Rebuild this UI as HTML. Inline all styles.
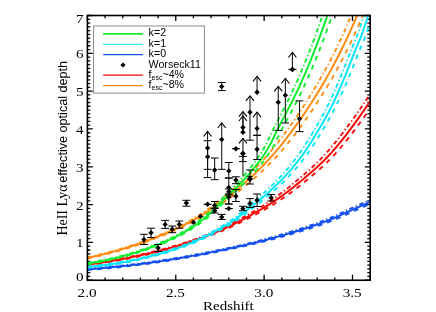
<!DOCTYPE html>
<html><head><meta charset="utf-8"><title>plot</title>
<style>html,body{margin:0;padding:0;background:#fff;}body{width:436px;height:312px;overflow:hidden;position:relative;font-family:"Liberation Sans",sans-serif;}</style></head>
<body>
<svg width="436" height="312" viewBox="0 0 436 312" style="position:absolute;left:0;top:0;will-change:transform">
<defs><clipPath id="pc"><rect x="87.4" y="15.5" width="282.79999999999995" height="264.75"/></clipPath></defs>
<path d="M87.40,280.25 v-5.4 M87.40,15.5 v5.4 M105.07,280.25 v-2.7 M105.07,15.5 v2.7 M122.75,280.25 v-2.7 M122.75,15.5 v2.7 M140.42,280.25 v-2.7 M140.42,15.5 v2.7 M158.09,280.25 v-2.7 M158.09,15.5 v2.7 M175.77,280.25 v-5.4 M175.77,15.5 v5.4 M193.44,280.25 v-2.7 M193.44,15.5 v2.7 M211.11,280.25 v-2.7 M211.11,15.5 v2.7 M228.79,280.25 v-2.7 M228.79,15.5 v2.7 M246.46,280.25 v-2.7 M246.46,15.5 v2.7 M264.13,280.25 v-5.4 M264.13,15.5 v5.4 M281.81,280.25 v-2.7 M281.81,15.5 v2.7 M299.48,280.25 v-2.7 M299.48,15.5 v2.7 M317.15,280.25 v-2.7 M317.15,15.5 v2.7 M334.83,280.25 v-2.7 M334.83,15.5 v2.7 M352.50,280.25 v-5.4 M352.50,15.5 v5.4 M370.17,280.25 v-2.7 M370.17,15.5 v2.7 M87.4,280.25 h5.4 M370.2,280.25 h-5.4 M87.4,276.47 h2.9 M370.2,276.47 h-2.9 M87.4,272.69 h2.9 M370.2,272.69 h-2.9 M87.4,268.90 h2.9 M370.2,268.90 h-2.9 M87.4,265.12 h2.9 M370.2,265.12 h-2.9 M87.4,261.34 h2.9 M370.2,261.34 h-2.9 M87.4,257.56 h2.9 M370.2,257.56 h-2.9 M87.4,253.78 h2.9 M370.2,253.78 h-2.9 M87.4,249.99 h2.9 M370.2,249.99 h-2.9 M87.4,246.21 h2.9 M370.2,246.21 h-2.9 M87.4,242.43 h5.4 M370.2,242.43 h-5.4 M87.4,238.65 h2.9 M370.2,238.65 h-2.9 M87.4,234.86 h2.9 M370.2,234.86 h-2.9 M87.4,231.08 h2.9 M370.2,231.08 h-2.9 M87.4,227.30 h2.9 M370.2,227.30 h-2.9 M87.4,223.52 h2.9 M370.2,223.52 h-2.9 M87.4,219.74 h2.9 M370.2,219.74 h-2.9 M87.4,215.95 h2.9 M370.2,215.95 h-2.9 M87.4,212.17 h2.9 M370.2,212.17 h-2.9 M87.4,208.39 h2.9 M370.2,208.39 h-2.9 M87.4,204.61 h5.4 M370.2,204.61 h-5.4 M87.4,200.82 h2.9 M370.2,200.82 h-2.9 M87.4,197.04 h2.9 M370.2,197.04 h-2.9 M87.4,193.26 h2.9 M370.2,193.26 h-2.9 M87.4,189.48 h2.9 M370.2,189.48 h-2.9 M87.4,185.70 h2.9 M370.2,185.70 h-2.9 M87.4,181.91 h2.9 M370.2,181.91 h-2.9 M87.4,178.13 h2.9 M370.2,178.13 h-2.9 M87.4,174.35 h2.9 M370.2,174.35 h-2.9 M87.4,170.57 h2.9 M370.2,170.57 h-2.9 M87.4,166.79 h5.4 M370.2,166.79 h-5.4 M87.4,163.00 h2.9 M370.2,163.00 h-2.9 M87.4,159.22 h2.9 M370.2,159.22 h-2.9 M87.4,155.44 h2.9 M370.2,155.44 h-2.9 M87.4,151.66 h2.9 M370.2,151.66 h-2.9 M87.4,147.88 h2.9 M370.2,147.88 h-2.9 M87.4,144.09 h2.9 M370.2,144.09 h-2.9 M87.4,140.31 h2.9 M370.2,140.31 h-2.9 M87.4,136.53 h2.9 M370.2,136.53 h-2.9 M87.4,132.75 h2.9 M370.2,132.75 h-2.9 M87.4,128.96 h5.4 M370.2,128.96 h-5.4 M87.4,125.18 h2.9 M370.2,125.18 h-2.9 M87.4,121.40 h2.9 M370.2,121.40 h-2.9 M87.4,117.62 h2.9 M370.2,117.62 h-2.9 M87.4,113.84 h2.9 M370.2,113.84 h-2.9 M87.4,110.05 h2.9 M370.2,110.05 h-2.9 M87.4,106.27 h2.9 M370.2,106.27 h-2.9 M87.4,102.49 h2.9 M370.2,102.49 h-2.9 M87.4,98.71 h2.9 M370.2,98.71 h-2.9 M87.4,94.92 h2.9 M370.2,94.92 h-2.9 M87.4,91.14 h5.4 M370.2,91.14 h-5.4 M87.4,87.36 h2.9 M370.2,87.36 h-2.9 M87.4,83.58 h2.9 M370.2,83.58 h-2.9 M87.4,79.80 h2.9 M370.2,79.80 h-2.9 M87.4,76.01 h2.9 M370.2,76.01 h-2.9 M87.4,72.23 h2.9 M370.2,72.23 h-2.9 M87.4,68.45 h2.9 M370.2,68.45 h-2.9 M87.4,64.67 h2.9 M370.2,64.67 h-2.9 M87.4,60.89 h2.9 M370.2,60.89 h-2.9 M87.4,57.10 h2.9 M370.2,57.10 h-2.9 M87.4,53.32 h5.4 M370.2,53.32 h-5.4 M87.4,49.54 h2.9 M370.2,49.54 h-2.9 M87.4,45.76 h2.9 M370.2,45.76 h-2.9 M87.4,41.97 h2.9 M370.2,41.97 h-2.9 M87.4,38.19 h2.9 M370.2,38.19 h-2.9 M87.4,34.41 h2.9 M370.2,34.41 h-2.9 M87.4,30.63 h2.9 M370.2,30.63 h-2.9 M87.4,26.85 h2.9 M370.2,26.85 h-2.9 M87.4,23.06 h2.9 M370.2,23.06 h-2.9 M87.4,19.28 h2.9 M370.2,19.28 h-2.9 M87.4,15.50 h5.4 M370.2,15.50 h-5.4" stroke="#000" fill="none" stroke-width="1.3"/>
<g clip-path="url(#pc)" fill="none" stroke-linejoin="round">
<path d="M87.40,268.65 L90.02,268.45 L92.65,268.24 L95.28,268.03 L97.90,267.81 L100.53,267.59 L103.16,267.36 L105.78,267.13 L108.41,266.89 L111.03,266.64 L113.66,266.39 L116.29,266.13 L118.91,265.86 L121.54,265.58 L124.16,265.30 L126.79,265.01 L129.41,264.71 L132.04,264.40 L134.66,264.08 L137.29,263.74 L139.91,263.40 L142.54,263.05 L145.16,262.69 L147.79,262.32 L150.41,261.95 L153.03,261.58 L155.66,261.20 L158.28,260.81 L160.90,260.42 L163.53,260.02 L166.15,259.61 L168.77,259.19 L171.39,258.77 L174.01,258.34 L176.63,257.90 L179.25,257.46 L181.87,257.01 L184.48,256.55 L187.10,256.09 L189.72,255.63 L192.33,255.16 L194.94,254.68 L197.55,254.20 L200.17,253.71 L202.77,253.21 L205.38,252.71 L207.99,252.20 L210.59,251.69 L213.19,251.17 L215.79,250.64 L218.39,250.10 L220.99,249.56 L223.58,249.01 L226.17,248.46 L228.76,247.90 L231.34,247.33 L233.92,246.76 L236.50,246.19 L239.08,245.60 L241.65,245.01 L244.23,244.41 L246.79,243.80 L249.36,243.19 L251.92,242.56 L254.48,241.92 L257.04,241.27 L259.60,240.61 L262.16,239.93 L264.71,239.25 L267.26,238.55 L269.82,237.85 L272.37,237.13 L274.92,236.40 L277.47,235.66 L280.03,234.91 L282.58,234.15 L285.14,233.38 L287.70,232.60 L290.26,231.82 L292.82,231.03 L295.39,230.23 L297.95,229.42 L300.52,228.60 L303.10,227.77 L305.67,226.92 L308.25,226.07 L310.83,225.19 L313.42,224.30 L316.00,223.38 L318.59,222.45 L321.19,221.48 L323.78,220.49 L326.38,219.47 L328.98,218.42 L331.58,217.31 L334.18,216.16 L336.79,214.97 L339.39,213.76 L342.00,212.54 L344.61,211.32 L347.22,210.12 L349.84,208.94 L352.45,207.77 L355.06,206.61 L357.68,205.44 L360.30,204.28 L362.92,203.10 L365.53,201.91 L368.15,200.70 L370.77,199.50" stroke="#1450f0" stroke-width="1.85" stroke-dasharray="4.5 2.5 1.3 2.5"/>
<path d="M87.40,270.05 L90.03,269.85 L92.66,269.64 L95.28,269.43 L97.91,269.21 L100.54,268.99 L103.17,268.76 L105.79,268.53 L108.42,268.29 L111.05,268.04 L113.67,267.79 L116.30,267.53 L118.93,267.26 L121.56,266.98 L124.18,266.70 L126.81,266.41 L129.44,266.11 L132.07,265.80 L134.70,265.48 L137.32,265.14 L139.95,264.80 L142.58,264.45 L145.21,264.09 L147.84,263.72 L150.47,263.35 L153.10,262.98 L155.73,262.60 L158.36,262.21 L160.99,261.82 L163.62,261.42 L166.25,261.01 L168.88,260.59 L171.52,260.17 L174.15,259.74 L176.78,259.30 L179.42,258.86 L182.05,258.41 L184.69,257.95 L187.33,257.49 L189.97,257.03 L192.60,256.56 L195.24,256.08 L197.89,255.60 L200.53,255.11 L203.17,254.61 L205.82,254.11 L208.47,253.60 L211.12,253.09 L213.77,252.57 L216.42,252.04 L219.08,251.50 L221.74,250.96 L224.40,250.41 L227.06,249.86 L229.72,249.30 L232.39,248.73 L235.06,248.16 L237.74,247.59 L240.41,247.00 L243.09,246.41 L245.78,245.81 L248.46,245.20 L251.15,244.59 L253.84,243.96 L256.53,243.32 L259.23,242.67 L261.92,242.01 L264.62,241.33 L267.32,240.65 L270.02,239.95 L272.72,239.25 L275.42,238.53 L278.12,237.80 L280.82,237.06 L283.52,236.31 L286.22,235.55 L288.92,234.78 L291.61,234.00 L294.30,233.22 L297.00,232.43 L299.68,231.63 L302.37,230.82 L305.05,230.00 L307.73,229.17 L310.41,228.32 L313.08,227.47 L315.76,226.59 L318.43,225.70 L321.09,224.78 L323.76,223.85 L326.42,222.88 L329.08,221.89 L331.73,220.87 L334.39,219.82 L337.04,218.71 L339.69,217.56 L342.34,216.37 L344.98,215.16 L347.63,213.94 L350.27,212.72 L352.91,211.52 L355.55,210.34 L358.19,209.17 L360.83,208.01 L363.47,206.84 L366.10,205.68 L368.74,204.50 L371.37,203.31 L374.01,202.10 L376.64,200.90" stroke="#1450f0" stroke-width="1.85" stroke-dasharray="4.7 5.1"/>
<path d="M87.40,269.35 L90.03,269.15 L92.65,268.94 L95.28,268.73 L97.91,268.51 L100.53,268.29 L103.16,268.06 L105.79,267.83 L108.41,267.59 L111.04,267.34 L113.67,267.09 L116.29,266.83 L118.92,266.56 L121.55,266.28 L124.17,266.00 L126.80,265.71 L129.43,265.41 L132.05,265.10 L134.68,264.78 L137.31,264.44 L139.93,264.10 L142.56,263.75 L145.19,263.39 L147.81,263.02 L150.44,262.65 L153.07,262.28 L155.69,261.90 L158.32,261.51 L160.95,261.12 L163.57,260.72 L166.20,260.31 L168.83,259.89 L171.45,259.47 L174.08,259.04 L176.71,258.60 L179.33,258.16 L181.96,257.71 L184.59,257.25 L187.21,256.79 L189.84,256.33 L192.47,255.86 L195.09,255.38 L197.72,254.90 L200.35,254.41 L202.97,253.91 L205.60,253.41 L208.23,252.90 L210.85,252.39 L213.48,251.87 L216.11,251.34 L218.73,250.80 L221.36,250.26 L223.99,249.71 L226.61,249.16 L229.24,248.60 L231.87,248.03 L234.49,247.46 L237.12,246.89 L239.75,246.30 L242.37,245.71 L245.00,245.11 L247.63,244.50 L250.25,243.89 L252.88,243.26 L255.51,242.62 L258.13,241.97 L260.76,241.31 L263.39,240.63 L266.01,239.95 L268.64,239.25 L271.27,238.55 L273.89,237.83 L276.52,237.10 L279.15,236.36 L281.77,235.61 L284.40,234.85 L287.03,234.08 L289.65,233.30 L292.28,232.52 L294.91,231.73 L297.53,230.93 L300.16,230.12 L302.79,229.30 L305.41,228.47 L308.04,227.62 L310.67,226.77 L313.29,225.89 L315.92,225.00 L318.55,224.08 L321.17,223.15 L323.80,222.18 L326.43,221.19 L329.05,220.17 L331.68,219.12 L334.31,218.01 L336.93,216.86 L339.56,215.67 L342.19,214.46 L344.81,213.24 L347.44,212.02 L350.07,210.82 L352.69,209.64 L355.32,208.47 L357.95,207.31 L360.57,206.14 L363.20,204.98 L365.83,203.80 L368.45,202.61 L371.08,201.40 L373.71,200.20" stroke="#1450f0" stroke-width="2.0"/>
<path d="M87.38,263.98 L90.01,263.61 L92.63,263.23 L95.26,262.84 L97.88,262.44 L100.51,262.04 L103.13,261.62 L105.76,261.20 L108.38,260.76 L111.00,260.32 L113.63,259.86 L116.25,259.40 L118.87,258.93 L121.49,258.44 L124.12,257.95 L126.74,257.45 L129.36,256.93 L131.98,256.40 L134.60,255.87 L137.22,255.32 L139.83,254.76 L142.45,254.19 L145.07,253.61 L147.68,253.01 L150.30,252.40 L152.91,251.77 L155.52,251.13 L158.13,250.47 L160.74,249.80 L163.35,249.10 L165.96,248.40 L168.56,247.67 L171.16,246.93 L173.76,246.18 L176.36,245.40 L178.96,244.61 L181.55,243.80 L184.14,242.97 L186.73,242.12 L189.32,241.25 L191.90,240.37 L194.48,239.46 L197.05,238.54 L199.63,237.60 L202.20,236.63 L204.76,235.65 L207.32,234.64 L209.88,233.60 L212.44,232.55 L214.99,231.47 L217.53,230.36 L220.08,229.22 L222.62,228.06 L225.16,226.86 L227.69,225.63 L230.22,224.36 L232.75,223.07 L235.28,221.74 L237.81,220.38 L240.33,218.99 L242.86,217.58 L245.38,216.16 L247.91,214.71 L250.43,213.26 L252.96,211.79 L255.49,210.31 L258.02,208.81 L260.55,207.28 L263.08,205.71 L265.62,204.10 L268.16,202.44 L270.70,200.73 L273.25,198.96 L275.80,197.14 L278.35,195.28 L280.91,193.36 L283.47,191.40 L286.04,189.40 L288.61,187.36 L291.18,185.27 L293.76,183.16 L296.33,181.01 L298.92,178.83 L301.50,176.63 L304.09,174.41 L306.68,172.16 L309.27,169.86 L311.87,167.51 L314.47,165.10 L317.07,162.62 L319.67,160.04 L322.27,157.37 L324.88,154.59 L327.49,151.69 L330.10,148.70 L332.71,145.61 L335.32,142.44 L337.93,139.19 L340.55,135.87 L343.16,132.49 L345.78,129.00 L348.39,125.45 L351.01,121.86 L353.63,118.22 L356.25,114.53 L358.87,110.77 L361.49,106.96 L364.11,103.10 L366.73,99.19 L369.36,95.25" stroke="#f80808" stroke-width="1.85" stroke-dasharray="4.5 2.5 1.3 2.5"/>
<path d="M87.42,265.38 L90.04,265.01 L92.67,264.63 L95.30,264.24 L97.93,263.84 L100.56,263.44 L103.19,263.02 L105.82,262.60 L108.45,262.16 L111.08,261.72 L113.71,261.26 L116.34,260.80 L118.97,260.33 L121.60,259.84 L124.23,259.35 L126.86,258.85 L129.50,258.33 L132.13,257.80 L134.76,257.27 L137.40,256.72 L140.03,256.16 L142.67,255.59 L145.31,255.01 L147.94,254.41 L150.58,253.80 L153.22,253.17 L155.86,252.53 L158.51,251.87 L161.15,251.20 L163.80,250.50 L166.44,249.80 L169.09,249.07 L171.74,248.33 L174.40,247.58 L177.05,246.80 L179.71,246.01 L182.37,245.20 L185.03,244.37 L187.70,243.52 L190.36,242.65 L193.03,241.77 L195.71,240.86 L198.39,239.94 L201.07,239.00 L203.75,238.03 L206.44,237.05 L209.13,236.04 L211.83,235.00 L214.53,233.95 L217.23,232.87 L219.93,231.76 L222.64,230.62 L225.36,229.46 L228.07,228.26 L230.79,227.03 L233.51,225.76 L236.24,224.47 L238.96,223.14 L241.69,221.78 L244.42,220.39 L247.14,218.98 L249.87,217.56 L252.60,216.11 L255.33,214.66 L258.06,213.19 L260.78,211.71 L263.51,210.21 L266.23,208.68 L268.95,207.11 L271.66,205.50 L274.38,203.84 L277.08,202.13 L279.79,200.36 L282.49,198.54 L285.19,196.68 L287.89,194.76 L290.58,192.80 L293.27,190.80 L295.95,188.76 L298.64,186.67 L301.31,184.56 L303.99,182.41 L306.66,180.23 L309.33,178.03 L311.99,175.81 L314.66,173.56 L317.32,171.26 L319.97,168.91 L322.63,166.50 L325.28,164.02 L327.93,161.44 L330.58,158.77 L333.23,155.99 L335.88,153.09 L338.52,150.10 L341.16,147.01 L343.80,143.84 L346.44,140.59 L349.08,137.27 L351.72,133.89 L354.36,130.40 L356.99,126.85 L359.63,123.26 L362.26,119.62 L364.90,115.93 L367.53,112.17 L370.16,108.36 L372.80,104.50 L375.43,100.59 L378.06,96.65" stroke="#f80808" stroke-width="1.85" stroke-dasharray="4.7 5.1"/>
<path d="M87.40,264.68 L90.03,264.31 L92.65,263.93 L95.28,263.54 L97.91,263.14 L100.53,262.74 L103.16,262.32 L105.79,261.90 L108.41,261.46 L111.04,261.02 L113.67,260.56 L116.29,260.10 L118.92,259.63 L121.55,259.14 L124.17,258.65 L126.80,258.15 L129.43,257.63 L132.05,257.10 L134.68,256.57 L137.31,256.02 L139.93,255.46 L142.56,254.89 L145.19,254.31 L147.81,253.71 L150.44,253.10 L153.07,252.47 L155.69,251.83 L158.32,251.17 L160.95,250.50 L163.57,249.80 L166.20,249.10 L168.83,248.37 L171.45,247.63 L174.08,246.88 L176.71,246.10 L179.33,245.31 L181.96,244.50 L184.59,243.67 L187.21,242.82 L189.84,241.95 L192.47,241.07 L195.09,240.16 L197.72,239.24 L200.35,238.30 L202.97,237.33 L205.60,236.35 L208.23,235.34 L210.85,234.30 L213.48,233.25 L216.11,232.17 L218.73,231.06 L221.36,229.92 L223.99,228.76 L226.61,227.56 L229.24,226.33 L231.87,225.06 L234.49,223.77 L237.12,222.44 L239.75,221.08 L242.37,219.69 L245.00,218.28 L247.63,216.86 L250.25,215.41 L252.88,213.96 L255.51,212.49 L258.13,211.01 L260.76,209.51 L263.39,207.98 L266.01,206.41 L268.64,204.80 L271.27,203.14 L273.89,201.43 L276.52,199.66 L279.15,197.84 L281.77,195.98 L284.40,194.06 L287.03,192.10 L289.65,190.10 L292.28,188.06 L294.91,185.97 L297.53,183.86 L300.16,181.71 L302.79,179.53 L305.41,177.33 L308.04,175.11 L310.67,172.86 L313.29,170.56 L315.92,168.21 L318.55,165.80 L321.17,163.32 L323.80,160.74 L326.43,158.07 L329.05,155.29 L331.68,152.39 L334.31,149.40 L336.93,146.31 L339.56,143.14 L342.19,139.89 L344.81,136.57 L347.44,133.19 L350.07,129.70 L352.69,126.15 L355.32,122.56 L357.95,118.92 L360.57,115.23 L363.20,111.47 L365.83,107.66 L368.45,103.80 L371.08,99.89 L373.71,95.95" stroke="#f80808" stroke-width="2.0"/>
<path d="M87.38,266.46 L90.01,266.19 L92.63,265.90 L95.25,265.60 L97.88,265.29 L100.50,264.96 L103.13,264.63 L105.75,264.28 L108.37,263.91 L111.00,263.54 L113.62,263.14 L116.24,262.74 L118.86,262.32 L121.48,261.88 L124.10,261.42 L126.72,260.95 L129.34,260.46 L131.96,259.94 L134.58,259.39 L137.19,258.81 L139.81,258.22 L142.43,257.60 L145.04,256.95 L147.65,256.29 L150.27,255.61 L152.88,254.92 L155.48,254.21 L158.09,253.49 L160.70,252.75 L163.30,251.98 L165.90,251.20 L168.50,250.39 L171.10,249.56 L173.70,248.70 L176.29,247.81 L178.88,246.89 L181.47,245.94 L184.06,244.96 L186.64,243.94 L189.22,242.88 L191.79,241.78 L194.37,240.64 L196.94,239.46 L199.50,238.24 L202.07,236.99 L204.63,235.70 L207.18,234.37 L209.74,233.01 L212.29,231.62 L214.83,230.20 L217.38,228.75 L219.92,227.28 L222.46,225.77 L225.00,224.21 L227.53,222.60 L230.07,220.92 L232.60,219.15 L235.14,217.28 L237.67,215.27 L240.21,213.17 L242.74,211.02 L245.28,208.84 L247.81,206.69 L250.35,204.58 L252.90,202.46 L255.44,200.32 L257.99,198.17 L260.53,195.98 L263.09,193.74 L265.64,191.43 L268.20,189.04 L270.76,186.62 L273.33,184.14 L275.90,181.60 L278.47,178.95 L281.04,176.19 L283.62,173.34 L286.20,170.40 L288.79,167.35 L291.37,164.19 L293.96,160.91 L296.56,157.49 L299.15,153.91 L301.75,150.16 L304.35,146.25 L306.95,142.18 L309.55,137.98 L312.16,133.67 L314.76,129.28 L317.37,124.81 L319.98,120.23 L322.59,115.51 L325.21,110.60 L327.82,105.44 L330.43,100.01 L333.05,94.33 L335.67,88.45 L338.28,82.40 L340.90,76.17 L343.52,69.65 L346.14,62.95 L348.76,56.20 L351.38,49.55 L354.00,43.26 L356.63,36.95 L359.25,29.85 L361.87,22.01 L364.49,13.89 L367.12,5.61 L369.74,-2.94" stroke="#08e6fa" stroke-width="1.85" stroke-dasharray="4.5 2.5 1.3 2.5"/>
<path d="M87.42,267.86 L90.05,267.59 L92.68,267.30 L95.31,267.00 L97.94,266.69 L100.56,266.36 L103.19,266.03 L105.82,265.68 L108.45,265.31 L111.09,264.94 L113.72,264.54 L116.35,264.14 L118.98,263.72 L121.61,263.28 L124.24,262.82 L126.88,262.35 L129.51,261.86 L132.15,261.34 L134.78,260.79 L137.42,260.21 L140.06,259.62 L142.69,259.00 L145.33,258.35 L147.97,257.69 L150.62,257.01 L153.26,256.32 L155.90,255.61 L158.55,254.89 L161.20,254.15 L163.85,253.38 L166.50,252.60 L169.15,251.79 L171.81,250.96 L174.46,250.10 L177.12,249.21 L179.79,248.29 L182.45,247.34 L185.12,246.36 L187.79,245.34 L190.46,244.28 L193.14,243.18 L195.82,242.04 L198.50,240.86 L201.19,239.64 L203.88,238.39 L206.58,237.10 L209.27,235.77 L211.97,234.41 L214.68,233.02 L217.38,231.60 L220.09,230.15 L222.80,228.68 L225.51,227.17 L228.23,225.61 L230.95,224.00 L233.66,222.32 L236.38,220.55 L239.10,218.68 L241.82,216.67 L244.54,214.57 L247.26,212.42 L249.98,210.24 L252.69,208.09 L255.41,205.98 L258.12,203.86 L260.83,201.72 L263.54,199.57 L266.24,197.38 L268.94,195.14 L271.64,192.83 L274.33,190.44 L277.03,188.02 L279.71,185.54 L282.40,183.00 L285.08,180.35 L287.76,177.59 L290.43,174.74 L293.11,171.80 L295.78,168.75 L298.44,165.59 L301.11,162.31 L303.77,158.89 L306.42,155.31 L309.08,151.56 L311.73,147.65 L314.39,143.58 L317.04,139.38 L319.68,135.07 L322.33,130.68 L324.98,126.21 L327.62,121.63 L330.26,116.91 L332.90,112.00 L335.54,106.84 L338.18,101.41 L340.82,95.73 L343.46,89.85 L346.09,83.80 L348.73,77.57 L351.36,71.05 L353.99,64.35 L356.63,57.60 L359.26,50.95 L361.89,44.66 L364.52,38.35 L367.15,31.25 L369.79,23.41 L372.42,15.29 L375.05,7.01 L377.68,-1.54" stroke="#08e6fa" stroke-width="1.85" stroke-dasharray="4.7 5.1"/>
<path d="M87.40,267.16 L90.03,266.89 L92.65,266.60 L95.28,266.30 L97.91,265.99 L100.53,265.66 L103.16,265.33 L105.79,264.98 L108.41,264.61 L111.04,264.24 L113.67,263.84 L116.29,263.44 L118.92,263.02 L121.55,262.58 L124.17,262.12 L126.80,261.65 L129.43,261.16 L132.05,260.64 L134.68,260.09 L137.31,259.51 L139.93,258.92 L142.56,258.30 L145.19,257.65 L147.81,256.99 L150.44,256.31 L153.07,255.62 L155.69,254.91 L158.32,254.19 L160.95,253.45 L163.57,252.68 L166.20,251.90 L168.83,251.09 L171.45,250.26 L174.08,249.40 L176.71,248.51 L179.33,247.59 L181.96,246.64 L184.59,245.66 L187.21,244.64 L189.84,243.58 L192.47,242.48 L195.09,241.34 L197.72,240.16 L200.35,238.94 L202.97,237.69 L205.60,236.40 L208.23,235.07 L210.85,233.71 L213.48,232.32 L216.11,230.90 L218.73,229.45 L221.36,227.98 L223.99,226.47 L226.61,224.91 L229.24,223.30 L231.87,221.62 L234.49,219.85 L237.12,217.98 L239.75,215.97 L242.37,213.87 L245.00,211.72 L247.63,209.54 L250.25,207.39 L252.88,205.28 L255.51,203.16 L258.13,201.02 L260.76,198.87 L263.39,196.68 L266.01,194.44 L268.64,192.13 L271.27,189.74 L273.89,187.32 L276.52,184.84 L279.15,182.30 L281.77,179.65 L284.40,176.89 L287.03,174.04 L289.65,171.10 L292.28,168.05 L294.91,164.89 L297.53,161.61 L300.16,158.19 L302.79,154.61 L305.41,150.86 L308.04,146.95 L310.67,142.88 L313.29,138.68 L315.92,134.37 L318.55,129.98 L321.17,125.51 L323.80,120.93 L326.43,116.21 L329.05,111.30 L331.68,106.14 L334.31,100.71 L336.93,95.03 L339.56,89.15 L342.19,83.10 L344.81,76.87 L347.44,70.35 L350.07,63.65 L352.69,56.90 L355.32,50.25 L357.95,43.96 L360.57,37.65 L363.20,30.55 L365.83,22.71 L368.45,14.59 L371.08,6.31 L373.71,-2.24" stroke="#08e6fa" stroke-width="2.0"/>
<path d="M87.36,257.33 L89.99,256.75 L92.61,256.16 L95.23,255.56 L97.85,254.94 L100.48,254.31 L103.10,253.66 L105.72,252.99 L108.34,252.31 L110.96,251.61 L113.57,250.90 L116.19,250.16 L118.81,249.41 L121.43,248.65 L124.04,247.86 L126.65,247.05 L129.27,246.23 L131.88,245.38 L134.49,244.51 L137.10,243.62 L139.71,242.71 L142.31,241.78 L144.92,240.83 L147.52,239.86 L150.12,238.86 L152.71,237.85 L155.31,236.83 L157.90,235.78 L160.49,234.72 L163.08,233.65 L165.66,232.55 L168.24,231.43 L170.81,230.29 L173.39,229.12 L175.95,227.92 L178.52,226.69 L181.08,225.43 L183.63,224.12 L186.19,222.78 L188.73,221.39 L191.27,219.95 L193.81,218.46 L196.35,216.92 L198.87,215.33 L201.40,213.69 L203.92,212.01 L206.44,210.28 L208.95,208.51 L211.46,206.70 L213.96,204.84 L216.47,202.95 L218.97,201.02 L221.47,199.06 L223.97,197.07 L226.47,195.04 L228.97,192.98 L231.47,190.86 L233.97,188.71 L236.47,186.51 L238.98,184.27 L241.48,181.97 L243.99,179.63 L246.51,177.23 L249.03,174.78 L251.55,172.29 L254.07,169.75 L256.60,167.16 L259.14,164.50 L261.68,161.77 L264.22,158.97 L266.77,156.08 L269.32,153.09 L271.88,150.01 L274.44,146.85 L277.01,143.60 L279.58,140.27 L282.15,136.88 L284.73,133.42 L287.31,129.91 L289.89,126.33 L292.48,122.67 L295.07,118.94 L297.66,115.13 L300.26,111.25 L302.86,107.28 L305.46,103.24 L308.06,99.12 L310.66,94.93 L313.27,90.67 L315.88,86.31 L318.49,81.87 L321.10,77.33 L323.71,72.67 L326.32,67.91 L328.94,63.02 L331.55,58.00 L334.17,52.87 L336.79,47.61 L339.40,42.23 L342.02,36.68 L344.64,30.97 L347.26,25.05 L349.88,18.91 L352.50,12.65 L355.13,6.28 L357.75,-0.20 L360.37,-6.81 L362.99,-13.55 L365.62,-20.43 L368.24,-27.47" stroke="#ff8c10" stroke-width="1.85" stroke-dasharray="4.5 2.5 1.3 2.5"/>
<path d="M87.44,258.73 L90.07,258.15 L92.70,257.56 L95.33,256.96 L97.96,256.34 L100.59,255.71 L103.22,255.06 L105.86,254.39 L108.49,253.71 L111.12,253.01 L113.76,252.30 L116.39,251.56 L119.03,250.81 L121.67,250.05 L124.31,249.26 L126.95,248.45 L129.59,247.63 L132.23,246.78 L134.87,245.91 L137.52,245.02 L140.16,244.11 L142.81,243.18 L145.46,242.23 L148.11,241.26 L150.76,240.26 L153.42,239.25 L156.08,238.23 L158.74,237.18 L161.40,236.12 L164.07,235.05 L166.74,233.95 L169.42,232.83 L172.09,231.69 L174.77,230.52 L177.46,229.32 L180.15,228.09 L182.84,226.83 L185.54,225.52 L188.24,224.18 L190.95,222.79 L193.66,221.35 L196.38,219.86 L199.10,218.32 L201.82,216.73 L204.55,215.09 L207.28,213.41 L210.02,211.68 L212.76,209.91 L215.50,208.10 L218.25,206.24 L221.00,204.35 L223.75,202.42 L226.50,200.46 L229.26,198.47 L232.01,196.44 L234.77,194.38 L237.52,192.26 L240.27,190.11 L243.02,187.91 L245.77,185.67 L248.52,183.37 L251.26,181.03 L254.00,178.63 L256.74,176.18 L259.47,173.69 L262.20,171.15 L264.92,168.56 L267.64,165.90 L270.35,163.17 L273.06,160.37 L275.77,157.48 L278.47,154.49 L281.16,151.41 L283.85,148.25 L286.54,145.00 L289.23,141.67 L291.91,138.28 L294.58,134.82 L297.25,131.31 L299.92,127.73 L302.59,124.07 L305.25,120.34 L307.91,116.53 L310.57,112.65 L313.23,108.68 L315.88,104.64 L318.53,100.52 L321.18,96.33 L323.83,92.07 L326.47,87.71 L329.12,83.27 L331.76,78.73 L334.40,74.07 L337.04,69.31 L339.68,64.42 L342.32,59.40 L344.95,54.27 L347.59,49.01 L350.23,43.63 L352.86,38.08 L355.49,32.37 L358.13,26.45 L360.76,20.31 L363.39,14.05 L366.02,7.68 L368.65,1.20 L371.29,-5.41 L373.92,-12.15 L376.55,-19.03 L379.18,-26.07" stroke="#ff8c10" stroke-width="1.85" stroke-dasharray="4.7 5.1"/>
<path d="M87.40,258.03 L90.03,257.45 L92.65,256.86 L95.28,256.26 L97.91,255.64 L100.53,255.01 L103.16,254.36 L105.79,253.69 L108.41,253.01 L111.04,252.31 L113.67,251.60 L116.29,250.86 L118.92,250.11 L121.55,249.35 L124.17,248.56 L126.80,247.75 L129.43,246.93 L132.05,246.08 L134.68,245.21 L137.31,244.32 L139.93,243.41 L142.56,242.48 L145.19,241.53 L147.81,240.56 L150.44,239.56 L153.07,238.55 L155.69,237.53 L158.32,236.48 L160.95,235.42 L163.57,234.35 L166.20,233.25 L168.83,232.13 L171.45,230.99 L174.08,229.82 L176.71,228.62 L179.33,227.39 L181.96,226.13 L184.59,224.82 L187.21,223.48 L189.84,222.09 L192.47,220.65 L195.09,219.16 L197.72,217.62 L200.35,216.03 L202.97,214.39 L205.60,212.71 L208.23,210.98 L210.85,209.21 L213.48,207.40 L216.11,205.54 L218.73,203.65 L221.36,201.72 L223.99,199.76 L226.61,197.77 L229.24,195.74 L231.87,193.68 L234.49,191.56 L237.12,189.41 L239.75,187.21 L242.37,184.97 L245.00,182.67 L247.63,180.33 L250.25,177.93 L252.88,175.48 L255.51,172.99 L258.13,170.45 L260.76,167.86 L263.39,165.20 L266.01,162.47 L268.64,159.67 L271.27,156.78 L273.89,153.79 L276.52,150.71 L279.15,147.55 L281.77,144.30 L284.40,140.97 L287.03,137.58 L289.65,134.12 L292.28,130.61 L294.91,127.03 L297.53,123.37 L300.16,119.64 L302.79,115.83 L305.41,111.95 L308.04,107.98 L310.67,103.94 L313.29,99.82 L315.92,95.63 L318.55,91.37 L321.17,87.01 L323.80,82.57 L326.43,78.03 L329.05,73.37 L331.68,68.61 L334.31,63.72 L336.93,58.70 L339.56,53.57 L342.19,48.31 L344.81,42.93 L347.44,37.38 L350.07,31.67 L352.69,25.75 L355.32,19.61 L357.95,13.35 L360.57,6.98 L363.20,0.50 L365.83,-6.11 L368.45,-12.85 L371.08,-19.73 L373.71,-26.77" stroke="#ff8c10" stroke-width="2.0"/>
<path d="M87.37,262.90 L89.99,262.46 L92.62,262.01 L95.24,261.54 L97.86,261.05 L100.48,260.55 L103.11,260.03 L105.73,259.50 L108.35,258.94 L110.97,258.37 L113.59,257.78 L116.21,257.17 L118.83,256.53 L121.44,255.88 L124.06,255.20 L126.68,254.49 L129.29,253.76 L131.90,253.00 L134.52,252.21 L137.13,251.39 L139.74,250.54 L142.35,249.66 L144.95,248.75 L147.56,247.81 L150.16,246.84 L152.76,245.85 L155.36,244.83 L157.96,243.79 L160.56,242.73 L163.15,241.65 L165.74,240.53 L168.32,239.37 L170.91,238.17 L173.49,236.93 L176.06,235.62 L178.64,234.26 L181.21,232.82 L183.77,231.33 L186.34,229.76 L188.89,228.13 L191.45,226.42 L194.00,224.64 L196.55,222.78 L199.09,220.84 L201.63,218.82 L204.16,216.70 L206.70,214.42 L209.23,211.99 L211.75,209.44 L214.28,206.79 L216.80,204.09 L219.32,201.38 L221.84,198.71 L224.35,196.12 L226.87,193.60 L229.39,191.10 L231.91,188.59 L234.43,186.02 L236.95,183.34 L239.47,180.58 L241.99,177.76 L244.52,174.86 L247.05,171.86 L249.59,168.74 L252.12,165.57 L254.66,162.29 L257.21,158.83 L259.76,155.12 L262.31,151.04 L264.86,146.58 L267.42,141.75 L269.99,136.31 L272.55,130.76 L275.13,125.63 L277.70,120.64 L280.28,115.65 L282.86,110.61 L285.44,105.58 L288.03,100.49 L290.62,95.22 L293.21,89.71 L295.81,84.01 L298.41,78.13 L301.01,72.10 L303.61,65.91 L306.21,59.57 L308.82,53.04 L311.43,46.31 L314.04,39.35 L316.65,32.18 L319.26,24.86 L321.87,17.42 L324.49,9.60 L327.10,1.33 L329.72,-7.36 L332.33,-16.47 L334.95,-25.97 L337.57,-35.84 L340.19,-46.04 L342.81,-56.55 L345.43,-67.33 L348.05,-78.33 L350.67,-89.50 L353.30,-100.78 L355.92,-112.12 L358.54,-123.43 L361.16,-134.64 L363.79,-145.68 L366.41,-156.44 L369.04,-166.83" stroke="#10ee30" stroke-width="1.85" stroke-dasharray="4.5 2.5 1.3 2.5"/>
<path d="M87.43,264.30 L90.06,263.86 L92.69,263.41 L95.32,262.94 L97.95,262.45 L100.58,261.95 L103.21,261.43 L105.85,260.90 L108.48,260.34 L111.11,259.77 L113.75,259.18 L116.38,258.57 L119.01,257.93 L121.65,257.28 L124.29,256.60 L126.92,255.89 L129.56,255.16 L132.20,254.40 L134.84,253.61 L137.48,252.79 L140.13,251.94 L142.77,251.06 L145.42,250.15 L148.07,249.21 L150.72,248.24 L153.37,247.25 L156.02,246.23 L158.68,245.19 L161.34,244.13 L164.00,243.05 L166.66,241.93 L169.33,240.77 L172.00,239.57 L174.67,238.33 L177.35,237.02 L180.03,235.66 L182.71,234.22 L185.40,232.73 L188.09,231.16 L190.79,229.53 L193.49,227.82 L196.19,226.04 L198.90,224.18 L201.61,222.24 L204.32,220.22 L207.04,218.10 L209.76,215.82 L212.48,213.39 L215.21,210.84 L217.94,208.19 L220.67,205.49 L223.40,202.78 L226.14,200.11 L228.87,197.52 L231.61,195.00 L234.35,192.50 L237.08,189.99 L239.81,187.42 L242.55,184.74 L245.28,181.98 L248.01,179.16 L250.73,176.26 L253.46,173.26 L256.18,170.14 L258.89,166.97 L261.60,163.69 L264.31,160.23 L267.02,156.52 L269.72,152.44 L272.42,147.98 L275.11,143.15 L277.80,137.71 L280.49,132.16 L283.17,127.03 L285.85,122.04 L288.52,117.05 L291.20,112.01 L293.87,106.98 L296.53,101.89 L299.19,96.62 L301.85,91.11 L304.51,85.41 L307.17,79.53 L309.82,73.50 L312.47,67.31 L315.12,60.97 L317.77,54.44 L320.41,47.71 L323.06,40.75 L325.70,33.58 L328.34,26.26 L330.98,18.82 L333.62,11.00 L336.26,2.73 L338.90,-5.96 L341.53,-15.07 L344.17,-24.57 L346.80,-34.44 L349.44,-44.64 L352.07,-55.15 L354.70,-65.93 L357.34,-76.93 L359.97,-88.10 L362.60,-99.38 L365.23,-110.72 L367.86,-122.03 L370.49,-133.24 L373.12,-144.28 L375.75,-155.04 L378.38,-165.43" stroke="#10ee30" stroke-width="1.85" stroke-dasharray="4.7 5.1"/>
<path d="M87.40,263.60 L90.03,263.16 L92.65,262.71 L95.28,262.24 L97.91,261.75 L100.53,261.25 L103.16,260.73 L105.79,260.20 L108.41,259.64 L111.04,259.07 L113.67,258.48 L116.29,257.87 L118.92,257.23 L121.55,256.58 L124.17,255.90 L126.80,255.19 L129.43,254.46 L132.05,253.70 L134.68,252.91 L137.31,252.09 L139.93,251.24 L142.56,250.36 L145.19,249.45 L147.81,248.51 L150.44,247.54 L153.07,246.55 L155.69,245.53 L158.32,244.49 L160.95,243.43 L163.57,242.35 L166.20,241.23 L168.83,240.07 L171.45,238.87 L174.08,237.63 L176.71,236.32 L179.33,234.96 L181.96,233.52 L184.59,232.03 L187.21,230.46 L189.84,228.83 L192.47,227.12 L195.09,225.34 L197.72,223.48 L200.35,221.54 L202.97,219.52 L205.60,217.40 L208.23,215.12 L210.85,212.69 L213.48,210.14 L216.11,207.49 L218.73,204.79 L221.36,202.08 L223.99,199.41 L226.61,196.82 L229.24,194.30 L231.87,191.80 L234.49,189.29 L237.12,186.72 L239.75,184.04 L242.37,181.28 L245.00,178.46 L247.63,175.56 L250.25,172.56 L252.88,169.44 L255.51,166.27 L258.13,162.99 L260.76,159.53 L263.39,155.82 L266.01,151.74 L268.64,147.28 L271.27,142.45 L273.89,137.01 L276.52,131.46 L279.15,126.33 L281.77,121.34 L284.40,116.35 L287.03,111.31 L289.65,106.28 L292.28,101.19 L294.91,95.92 L297.53,90.41 L300.16,84.71 L302.79,78.83 L305.41,72.80 L308.04,66.61 L310.67,60.27 L313.29,53.74 L315.92,47.01 L318.55,40.05 L321.17,32.88 L323.80,25.56 L326.43,18.12 L329.05,10.30 L331.68,2.03 L334.31,-6.66 L336.93,-15.77 L339.56,-25.27 L342.19,-35.14 L344.81,-45.34 L347.44,-55.85 L350.07,-66.63 L352.69,-77.63 L355.32,-88.80 L357.95,-100.08 L360.57,-111.42 L363.20,-122.73 L365.83,-133.94 L368.45,-144.98 L371.08,-155.74 L373.71,-166.13" stroke="#10ee30" stroke-width="2.0"/>
</g>
<g>
<path d="M143.95,234.30 V244.50" stroke="#111" stroke-width="1.05" fill="none"/>
<path d="M140.05,234.30 H147.85" stroke="#000" stroke-width="1.0" fill="none"/>
<path d="M140.05,244.50 H147.85" stroke="#000" stroke-width="1.0" fill="none"/>
<path d="M141.25,239.60 L143.95,236.90 L146.65,239.60 L143.95,242.30 Z" fill="#000"/>
<path d="M151.02,228.20 V237.50" stroke="#111" stroke-width="1.05" fill="none"/>
<path d="M147.12,228.20 H154.92" stroke="#000" stroke-width="1.0" fill="none"/>
<path d="M147.12,237.50 H154.92" stroke="#000" stroke-width="1.0" fill="none"/>
<path d="M148.32,232.70 L151.02,230.00 L153.72,232.70 L151.02,235.40 Z" fill="#000"/>
<path d="M158.09,244.50 V251.50" stroke="#111" stroke-width="1.05" fill="none"/>
<path d="M154.19,244.50 H161.99" stroke="#000" stroke-width="1.0" fill="none"/>
<path d="M154.19,251.50 H161.99" stroke="#000" stroke-width="1.0" fill="none"/>
<path d="M155.39,248.00 L158.09,245.30 L160.79,248.00 L158.09,250.70 Z" fill="#000"/>
<path d="M165.16,220.40 V228.40" stroke="#111" stroke-width="1.05" fill="none"/>
<path d="M161.26,220.40 H169.06" stroke="#000" stroke-width="1.0" fill="none"/>
<path d="M161.26,228.40 H169.06" stroke="#000" stroke-width="1.0" fill="none"/>
<path d="M162.46,224.40 L165.16,221.70 L167.86,224.40 L165.16,227.10 Z" fill="#000"/>
<path d="M172.23,226.00 V232.70" stroke="#111" stroke-width="1.05" fill="none"/>
<path d="M168.33,226.00 H176.13" stroke="#000" stroke-width="1.0" fill="none"/>
<path d="M168.33,232.70 H176.13" stroke="#000" stroke-width="1.0" fill="none"/>
<path d="M169.53,229.20 L172.23,226.50 L174.93,229.20 L172.23,231.90 Z" fill="#000"/>
<path d="M179.30,221.00 V228.20" stroke="#111" stroke-width="1.05" fill="none"/>
<path d="M175.40,221.00 H183.20" stroke="#000" stroke-width="1.0" fill="none"/>
<path d="M175.40,228.20 H183.20" stroke="#000" stroke-width="1.0" fill="none"/>
<path d="M176.60,224.40 L179.30,221.70 L182.00,224.40 L179.30,227.10 Z" fill="#000"/>
<path d="M186.37,200.30 V206.20" stroke="#111" stroke-width="1.05" fill="none"/>
<path d="M182.47,200.30 H190.27" stroke="#000" stroke-width="1.0" fill="none"/>
<path d="M182.47,206.20 H190.27" stroke="#000" stroke-width="1.0" fill="none"/>
<path d="M183.67,203.00 L186.37,200.30 L189.07,203.00 L186.37,205.70 Z" fill="#000"/>
<path d="M190.74,222.30 L193.44,219.60 L196.14,222.30 L193.44,225.00 Z" fill="#000"/>
<path d="M197.81,216.40 L200.51,213.70 L203.21,216.40 L200.51,219.10 Z" fill="#000"/>
<path d="M207.58,140.70 V177.60" stroke="#111" stroke-width="1.05" fill="none"/>
<path d="M203.68,140.70 H211.48" stroke="#000" stroke-width="1.0" fill="none"/>
<path d="M203.68,177.60 H211.48" stroke="#000" stroke-width="1.0" fill="none"/>
<path d="M204.88,156.70 L207.58,154.00 L210.28,156.70 L207.58,159.40 Z" fill="#000"/>
<path d="M214.65,158.00 V179.70" stroke="#111" stroke-width="1.05" fill="none"/>
<path d="M210.75,158.00 H218.55" stroke="#000" stroke-width="1.0" fill="none"/>
<path d="M210.75,179.70 H218.55" stroke="#000" stroke-width="1.0" fill="none"/>
<path d="M211.95,170.00 L214.65,167.30 L217.35,170.00 L214.65,172.70 Z" fill="#000"/>
<path d="M214.65,201.50 V208.00" stroke="#111" stroke-width="1.05" fill="none"/>
<path d="M210.75,201.50 H218.55" stroke="#000" stroke-width="1.0" fill="none"/>
<path d="M210.75,208.00 H218.55" stroke="#000" stroke-width="1.0" fill="none"/>
<path d="M211.95,205.50 L214.65,202.80 L217.35,205.50 L214.65,208.20 Z" fill="#000"/>
<path d="M214.65,208.50 V213.00" stroke="#111" stroke-width="1.05" fill="none"/>
<path d="M210.75,208.50 H218.55" stroke="#000" stroke-width="1.0" fill="none"/>
<path d="M210.75,213.00 H218.55" stroke="#000" stroke-width="1.0" fill="none"/>
<path d="M211.95,210.70 L214.65,208.00 L217.35,210.70 L214.65,213.40 Z" fill="#000"/>
<path d="M221.72,82.50 V90.60" stroke="#111" stroke-width="1.05" fill="none"/>
<path d="M217.82,82.50 H225.62" stroke="#000" stroke-width="1.0" fill="none"/>
<path d="M217.82,90.60 H225.62" stroke="#000" stroke-width="1.0" fill="none"/>
<path d="M219.02,86.60 L221.72,83.90 L224.42,86.60 L221.72,89.30 Z" fill="#000"/>
<path d="M221.72,214.40 V219.50" stroke="#111" stroke-width="1.05" fill="none"/>
<path d="M217.82,214.40 H225.62" stroke="#000" stroke-width="1.0" fill="none"/>
<path d="M217.82,219.50 H225.62" stroke="#000" stroke-width="1.0" fill="none"/>
<path d="M219.02,217.10 L221.72,214.40 L224.42,217.10 L221.72,219.80 Z" fill="#000"/>
<path d="M228.79,162.50 V178.00" stroke="#111" stroke-width="1.05" fill="none"/>
<path d="M224.89,162.50 H232.69" stroke="#000" stroke-width="1.0" fill="none"/>
<path d="M224.89,178.00 H232.69" stroke="#000" stroke-width="1.0" fill="none"/>
<path d="M226.09,170.90 L228.79,168.20 L231.49,170.90 L228.79,173.60 Z" fill="#000"/>
<path d="M228.79,178.00 V204.00" stroke="#111" stroke-width="1.05" fill="none"/>
<path d="M224.89,178.00 H232.69" stroke="#000" stroke-width="1.0" fill="none"/>
<path d="M224.89,204.00 H232.69" stroke="#000" stroke-width="1.0" fill="none"/>
<path d="M226.09,187.40 L228.79,184.70 L231.49,187.40 L228.79,190.10 Z" fill="#000"/>
<path d="M228.79,189.00 V194.00" stroke="#111" stroke-width="1.05" fill="none"/>
<path d="M224.89,189.00 H232.69" stroke="#000" stroke-width="1.0" fill="none"/>
<path d="M224.89,194.00 H232.69" stroke="#000" stroke-width="1.0" fill="none"/>
<path d="M226.09,191.70 L228.79,189.00 L231.49,191.70 L228.79,194.40 Z" fill="#000"/>
<path d="M228.79,195.00 V204.00" stroke="#111" stroke-width="1.05" fill="none"/>
<path d="M224.89,195.00 H232.69" stroke="#000" stroke-width="1.0" fill="none"/>
<path d="M224.89,204.00 H232.69" stroke="#000" stroke-width="1.0" fill="none"/>
<path d="M226.09,197.00 L228.79,194.30 L231.49,197.00 L228.79,199.70 Z" fill="#000"/>
<path d="M235.86,176.80 V183.70" stroke="#111" stroke-width="1.05" fill="none"/>
<path d="M231.96,176.80 H239.76" stroke="#000" stroke-width="1.0" fill="none"/>
<path d="M231.96,183.70 H239.76" stroke="#000" stroke-width="1.0" fill="none"/>
<path d="M233.16,180.00 L235.86,177.30 L238.56,180.00 L235.86,182.70 Z" fill="#000"/>
<path d="M235.86,189.50 V201.50" stroke="#111" stroke-width="1.05" fill="none"/>
<path d="M231.96,189.50 H239.76" stroke="#000" stroke-width="1.0" fill="none"/>
<path d="M231.96,201.50 H239.76" stroke="#000" stroke-width="1.0" fill="none"/>
<path d="M233.16,196.20 L235.86,193.50 L238.56,196.20 L235.86,198.90 Z" fill="#000"/>
<path d="M242.93,156.40 V161.60" stroke="#111" stroke-width="1.05" fill="none"/>
<path d="M239.03,156.40 H246.83" stroke="#000" stroke-width="1.0" fill="none"/>
<path d="M239.03,161.60 H246.83" stroke="#000" stroke-width="1.0" fill="none"/>
<path d="M240.23,153.50 L242.93,150.80 L245.63,153.50 L242.93,156.20 Z" fill="#000"/>
<path d="M242.93,206.30 V210.70" stroke="#111" stroke-width="1.05" fill="none"/>
<path d="M239.03,206.30 H246.83" stroke="#000" stroke-width="1.0" fill="none"/>
<path d="M239.03,210.70 H246.83" stroke="#000" stroke-width="1.0" fill="none"/>
<path d="M240.23,208.60 L242.93,205.90 L245.63,208.60 L242.93,211.30 Z" fill="#000"/>
<path d="M249.99,170.00 V184.00" stroke="#111" stroke-width="1.05" fill="none"/>
<path d="M246.09,170.00 H253.89" stroke="#000" stroke-width="1.0" fill="none"/>
<path d="M246.09,184.00 H253.89" stroke="#000" stroke-width="1.0" fill="none"/>
<path d="M247.29,179.00 L249.99,176.30 L252.69,179.00 L249.99,181.70 Z" fill="#000"/>
<path d="M249.99,198.60 V207.50" stroke="#111" stroke-width="1.05" fill="none"/>
<path d="M246.09,198.60 H253.89" stroke="#000" stroke-width="1.0" fill="none"/>
<path d="M246.09,207.50 H253.89" stroke="#000" stroke-width="1.0" fill="none"/>
<path d="M247.29,203.50 L249.99,200.80 L252.69,203.50 L249.99,206.20 Z" fill="#000"/>
<path d="M257.06,135.30 V159.50" stroke="#111" stroke-width="1.05" fill="none"/>
<path d="M253.16,135.30 H260.96" stroke="#000" stroke-width="1.0" fill="none"/>
<path d="M253.16,159.50 H260.96" stroke="#000" stroke-width="1.0" fill="none"/>
<path d="M254.36,149.30 L257.06,146.60 L259.76,149.30 L257.06,152.00 Z" fill="#000"/>
<path d="M257.06,194.00 V206.50" stroke="#111" stroke-width="1.05" fill="none"/>
<path d="M253.16,194.00 H260.96" stroke="#000" stroke-width="1.0" fill="none"/>
<path d="M253.16,206.50 H260.96" stroke="#000" stroke-width="1.0" fill="none"/>
<path d="M254.36,200.20 L257.06,197.50 L259.76,200.20 L257.06,202.90 Z" fill="#000"/>
<path d="M271.20,194.50 V201.00" stroke="#111" stroke-width="1.05" fill="none"/>
<path d="M267.30,194.50 H275.10" stroke="#000" stroke-width="1.0" fill="none"/>
<path d="M267.30,201.00 H275.10" stroke="#000" stroke-width="1.0" fill="none"/>
<path d="M268.50,197.70 L271.20,195.00 L273.90,197.70 L271.20,200.40 Z" fill="#000"/>
<path d="M299.48,100.90 V131.60" stroke="#111" stroke-width="1.05" fill="none"/>
<path d="M295.58,100.90 H303.38" stroke="#000" stroke-width="1.0" fill="none"/>
<path d="M295.58,131.60 H303.38" stroke="#000" stroke-width="1.0" fill="none"/>
<path d="M296.78,118.80 L299.48,116.10 L302.18,118.80 L299.48,121.50 Z" fill="#000"/>
<path d="M207.58,131.50 V169.30" stroke="#111" stroke-width="1.05" fill="none"/>
<path d="M203.58,136.50 L207.58,131.50 L211.58,136.50" stroke="#000" stroke-width="1.1" fill="none"/>
<path d="M203.68,169.30 H211.48" stroke="#000" stroke-width="1.0" fill="none"/>
<path d="M204.88,147.90 L207.58,145.20 L210.28,147.90 L207.58,150.60 Z" fill="#000"/>
<path d="M221.72,123.00 V169.30" stroke="#111" stroke-width="1.05" fill="none"/>
<path d="M217.72,128.00 L221.72,123.00 L225.72,128.00" stroke="#000" stroke-width="1.1" fill="none"/>
<path d="M217.82,169.30 H225.62" stroke="#000" stroke-width="1.0" fill="none"/>
<path d="M219.02,139.40 L221.72,136.70 L224.42,139.40 L221.72,142.10 Z" fill="#000"/>
<path d="M242.93,111.60 V127.50" stroke="#111" stroke-width="1.05" fill="none"/>
<path d="M238.93,116.60 L242.93,111.60 L246.93,116.60" stroke="#000" stroke-width="1.1" fill="none"/>
<path d="M240.23,127.50 L242.93,124.80 L245.63,127.50 L242.93,130.20 Z" fill="#000"/>
<path d="M242.93,116.00 V132.30" stroke="#111" stroke-width="1.05" fill="none"/>
<path d="M238.93,121.00 L242.93,116.00 L246.93,121.00" stroke="#000" stroke-width="1.1" fill="none"/>
<path d="M240.23,132.30 L242.93,129.60 L245.63,132.30 L242.93,135.00 Z" fill="#000"/>
<path d="M242.93,138.30 V176.40" stroke="#111" stroke-width="1.05" fill="none"/>
<path d="M238.93,143.30 L242.93,138.30 L246.93,143.30" stroke="#000" stroke-width="1.1" fill="none"/>
<path d="M240.23,153.50 L242.93,150.80 L245.63,153.50 L242.93,156.20 Z" fill="#000"/>
<path d="M249.99,95.90 V140.20" stroke="#111" stroke-width="1.05" fill="none"/>
<path d="M245.99,100.90 L249.99,95.90 L253.99,100.90" stroke="#000" stroke-width="1.1" fill="none"/>
<path d="M246.09,140.20 H253.89" stroke="#000" stroke-width="1.0" fill="none"/>
<path d="M247.29,112.20 L249.99,109.50 L252.69,112.20 L249.99,114.90 Z" fill="#000"/>
<path d="M257.06,76.40 V92.30" stroke="#111" stroke-width="1.05" fill="none"/>
<path d="M253.06,81.40 L257.06,76.40 L261.06,81.40" stroke="#000" stroke-width="1.1" fill="none"/>
<path d="M254.36,92.30 L257.06,89.60 L259.76,92.30 L257.06,95.00 Z" fill="#000"/>
<path d="M257.06,112.10 V135.30" stroke="#111" stroke-width="1.05" fill="none"/>
<path d="M253.06,117.10 L257.06,112.10 L261.06,117.10" stroke="#000" stroke-width="1.1" fill="none"/>
<path d="M253.16,135.30 H260.96" stroke="#000" stroke-width="1.0" fill="none"/>
<path d="M254.36,128.40 L257.06,125.70 L259.76,128.40 L257.06,131.10 Z" fill="#000"/>
<path d="M278.27,86.30 V130.40" stroke="#111" stroke-width="1.05" fill="none"/>
<path d="M274.27,91.30 L278.27,86.30 L282.27,91.30" stroke="#000" stroke-width="1.1" fill="none"/>
<path d="M274.37,130.40 H282.17" stroke="#000" stroke-width="1.0" fill="none"/>
<path d="M275.57,102.20 L278.27,99.50 L280.97,102.20 L278.27,104.90 Z" fill="#000"/>
<path d="M285.34,78.50 V123.00" stroke="#111" stroke-width="1.05" fill="none"/>
<path d="M281.34,83.50 L285.34,78.50 L289.34,83.50" stroke="#000" stroke-width="1.1" fill="none"/>
<path d="M281.44,123.00 H289.24" stroke="#000" stroke-width="1.0" fill="none"/>
<path d="M282.64,95.20 L285.34,92.50 L288.04,95.20 L285.34,97.90 Z" fill="#000"/>
<path d="M292.41,52.50 V69.40" stroke="#111" stroke-width="1.05" fill="none"/>
<path d="M288.41,57.50 L292.41,52.50 L296.41,57.50" stroke="#000" stroke-width="1.1" fill="none"/>
<path d="M289.71,69.40 L292.41,66.70 L295.11,69.40 L292.41,72.10 Z" fill="#000"/>
<path d="M247.39,176.60 H252.59" stroke="#000" stroke-width="1.0" fill="none"/>
<path d="M246.99,179.00 L249.99,176.00 L252.99,179.00 L249.99,182.00 Z" fill="#000"/>
<path d="M203.58,204.30 H211.58" stroke="#000" stroke-width="1.1" fill="none"/>
<path d="M204.88,204.30 L207.58,201.60 L210.28,204.30 L207.58,207.00 Z" fill="#000"/>
<path d="M224.79,208.60 H232.79" stroke="#000" stroke-width="1.1" fill="none"/>
<path d="M226.09,208.60 L228.79,205.90 L231.49,208.60 L228.79,211.30 Z" fill="#000"/>
<path d="M231.86,148.70 H239.86" stroke="#000" stroke-width="1.1" fill="none"/>
<path d="M233.16,148.70 L235.86,146.00 L238.56,148.70 L235.86,151.40 Z" fill="#000"/>
<path d="M288.41,69.40 H296.41" stroke="#000" stroke-width="1.1" fill="none"/>
<path d="M289.71,69.40 L292.41,66.70 L295.11,69.40 L292.41,72.10 Z" fill="#000"/>
</g>
<rect x="87.4" y="15.5" width="282.79999999999995" height="264.75" stroke="#000" fill="none" stroke-width="1.6"/>
<rect x="93.6" y="26.0" width="110.80000000000001" height="67.1" fill="#fff" stroke="#8a8a8a" stroke-width="1"/>
<path d="M103.1,33.8 H142.9" stroke="#10ee30" stroke-width="1.8" fill="none"/>
<path d="M103.1,44.3 H142.9" stroke="#08e6fa" stroke-width="1.0" fill="none"/>
<path d="M103.1,54.6 H142.9" stroke="#1450f0" stroke-width="1.2" fill="none"/>
<path d="M120.40,65.00 L123.00,62.40 L125.60,65.00 L123.00,67.60 Z" fill="#000"/>
<path d="M103.1,75.1 H142.9" stroke="#f80808" stroke-width="1.1" fill="none"/>
<path d="M103.1,85.6 H142.9" stroke="#ff8c10" stroke-width="1.1" fill="none"/>
<text x="148.6" y="36.4" font-family="Liberation Sans, sans-serif" font-size="10.65" fill="#000">k=2</text>
<text x="148.6" y="46.9" font-family="Liberation Sans, sans-serif" font-size="10.65" fill="#000">k=1</text>
<text x="148.6" y="57.2" font-family="Liberation Sans, sans-serif" font-size="10.65" fill="#000">k=0</text>
<text x="148.6" y="67.6" font-family="Liberation Sans, sans-serif" font-size="10.65" fill="#000">Worseck11</text>
<text x="148.6" y="77.7" font-family="Liberation Sans, sans-serif" font-size="10.65" fill="#000">f<tspan font-size="7" dy="2">esc</tspan><tspan dy="-2">~4%</tspan></text>
<text x="148.6" y="88.2" font-family="Liberation Sans, sans-serif" font-size="10.65" fill="#000">f<tspan font-size="7" dy="2">esc</tspan><tspan dy="-2">~8%</tspan></text>
<text x="87.10" y="296.9" font-family="Liberation Serif, serif" font-size="13.4" text-anchor="middle" textLength="19.0" lengthAdjust="spacingAndGlyphs">2.0</text>
<text x="175.47" y="296.9" font-family="Liberation Serif, serif" font-size="13.4" text-anchor="middle" textLength="19.0" lengthAdjust="spacingAndGlyphs">2.5</text>
<text x="263.83" y="296.9" font-family="Liberation Serif, serif" font-size="13.4" text-anchor="middle" textLength="19.0" lengthAdjust="spacingAndGlyphs">3.0</text>
<text x="352.20" y="296.9" font-family="Liberation Serif, serif" font-size="13.4" text-anchor="middle" textLength="19.0" lengthAdjust="spacingAndGlyphs">3.5</text>
<text x="83.7" y="281.10" font-family="Liberation Serif, serif" font-size="13.4" text-anchor="end" textLength="7.6" lengthAdjust="spacingAndGlyphs">0</text>
<text x="83.7" y="247.43" font-family="Liberation Serif, serif" font-size="13.4" text-anchor="end" textLength="7.6" lengthAdjust="spacingAndGlyphs">1</text>
<text x="83.7" y="209.61" font-family="Liberation Serif, serif" font-size="13.4" text-anchor="end" textLength="7.6" lengthAdjust="spacingAndGlyphs">2</text>
<text x="83.7" y="171.79" font-family="Liberation Serif, serif" font-size="13.4" text-anchor="end" textLength="7.6" lengthAdjust="spacingAndGlyphs">3</text>
<text x="83.7" y="133.96" font-family="Liberation Serif, serif" font-size="13.4" text-anchor="end" textLength="7.6" lengthAdjust="spacingAndGlyphs">4</text>
<text x="83.7" y="96.14" font-family="Liberation Serif, serif" font-size="13.4" text-anchor="end" textLength="7.6" lengthAdjust="spacingAndGlyphs">5</text>
<text x="83.7" y="58.32" font-family="Liberation Serif, serif" font-size="13.4" text-anchor="end" textLength="7.6" lengthAdjust="spacingAndGlyphs">6</text>
<text x="83.7" y="23.10" font-family="Liberation Serif, serif" font-size="13.4" text-anchor="end" textLength="7.6" lengthAdjust="spacingAndGlyphs">7</text>
<text x="228.4" y="310.2" font-family="Liberation Serif, serif" font-size="13.5" text-anchor="middle" textLength="50.6" lengthAdjust="spacingAndGlyphs">Redshift</text>
<g transform="translate(66.8,235.6) rotate(-90)"><text x="0" y="0" font-family="Liberation Serif, serif" font-size="13.6" textLength="51.1" lengthAdjust="spacingAndGlyphs">HeII Ly&#945;</text><text x="52.9" y="0" font-family="Liberation Sans, sans-serif" font-size="12.8" textLength="121.8" lengthAdjust="spacingAndGlyphs">effective optical depth</text></g>
</svg>
</body></html>
